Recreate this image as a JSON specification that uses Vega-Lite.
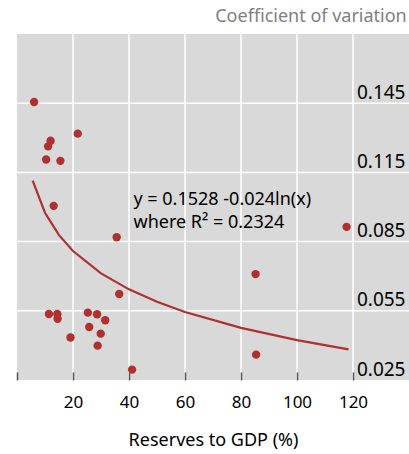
{
  "$schema": "https://vega.github.io/schema/vega-lite/v6.json",
  "width": 392,
  "height": 346,
  "autosize": "none",
  "padding": {"left": 17, "top": 34, "right": 0, "bottom": 74},
  "background": "white",
  "title": {
    "text": "Coefficient of variation",
    "anchor": "end",
    "orient": "top",
    "dx": -3,
    "offset": 7,
    "fontSize": 18,
    "fontWeight": "normal",
    "color": "#7f7f7f",
    "font": "Noto Sans"
  },
  "config": {
    "view": {"stroke": null},
    "font": "Noto Sans"
  },
  "datasets": {
    "points": [
      {"reserves": 6.1, "cv": 0.1455},
      {"reserves": 21.7, "cv": 0.1318},
      {"reserves": 12.0, "cv": 0.1287},
      {"reserves": 11.1, "cv": 0.1263},
      {"reserves": 10.4, "cv": 0.1206},
      {"reserves": 15.5, "cv": 0.1200},
      {"reserves": 13.1, "cv": 0.1005},
      {"reserves": 35.6, "cv": 0.0869},
      {"reserves": 117.7, "cv": 0.0914},
      {"reserves": 85.2, "cv": 0.0709},
      {"reserves": 36.5, "cv": 0.0623},
      {"reserves": 11.4, "cv": 0.0536},
      {"reserves": 14.4, "cv": 0.0536},
      {"reserves": 14.5, "cv": 0.0515},
      {"reserves": 25.3, "cv": 0.0542},
      {"reserves": 28.6, "cv": 0.0535},
      {"reserves": 31.5, "cv": 0.0509},
      {"reserves": 25.8, "cv": 0.0480},
      {"reserves": 29.9, "cv": 0.0451},
      {"reserves": 19.1, "cv": 0.0434},
      {"reserves": 28.8, "cv": 0.0399},
      {"reserves": 85.4, "cv": 0.0360},
      {"reserves": 41.1, "cv": 0.0295}
    ],
    "fit": [
      {"reserves": 5.6, "cv": 0.1114},
      {"reserves": 10, "cv": 0.0975},
      {"reserves": 15, "cv": 0.0878},
      {"reserves": 20, "cv": 0.0809},
      {"reserves": 30, "cv": 0.0712},
      {"reserves": 40, "cv": 0.0643},
      {"reserves": 50, "cv": 0.0589},
      {"reserves": 60, "cv": 0.0545},
      {"reserves": 80, "cv": 0.0476},
      {"reserves": 100, "cv": 0.0423},
      {"reserves": 118.4, "cv": 0.0383}
    ],
    "notes": [
      {"reserves": 41.6, "cv": 0.1031, "label": "y = 0.1528 -0.024ln(x)"},
      {"reserves": 41.6, "cv": 0.0931, "label": "where R² = 0.2324"}
    ],
    "panel": [{"x0": 0, "x1": 140, "y0": 0.025, "y1": 0.175}],
    "xgrid": [{"v": 20}, {"v": 40}, {"v": 60}, {"v": 80}, {"v": 100}, {"v": 120}],
    "ygrid": [{"v": 0.055}, {"v": 0.085}, {"v": 0.115}, {"v": 0.145}]
  },
  "layer": [
    {
      "data": {"name": "panel"},
      "mark": {"type": "rect", "color": "#d9d9d9", "opacity": 1},
      "encoding": {
        "x": {
          "field": "x0", "type": "quantitative",
          "scale": {"domain": [0, 140], "nice": false, "zero": false},
          "axis": {
            "title": "Reserves to GDP (%)",
            "titleFontSize": 18, "titleFontWeight": "normal", "titleColor": "black",
            "titlePadding": 21,
            "values": [0, 20, 40, 60, 80, 100, 120],
            "labelExpr": "datum.value == 0 ? '' : datum.label",
            "labelFontSize": 17, "labelColor": "black", "labelPadding": 22,
            "grid": false,
            "domain": false, "zindex": 1,
            "ticks": true, "tickSize": -8, "tickColor": "#555555", "tickWidth": 1.5
          }
        },
        "x2": {"field": "x1"},
        "y": {
          "field": "y0", "type": "quantitative",
          "scale": {"domain": [0.025, 0.175], "nice": false, "zero": false},
          "axis": {
            "orient": "right",
            "title": null,
            "values": [0.025, 0.055, 0.085, 0.115, 0.145, 0.175],
            "labelExpr": "datum.value > 0.16 ? '' : format(datum.value, '.3f')",
            "labelFontSize": 19, "labelColor": "black",
            "labelAlign": "right", "labelPadding": -4,
            "labelBaseline": "alphabetic", "labelOffset": -5,
            "grid": false, "domain": false, "ticks": false, "zindex": 1
          }
        },
        "y2": {"field": "y1"}
      }
    },
    {
      "data": {"name": "xgrid"},
      "mark": {"type": "rule", "color": "#ffffff", "strokeWidth": 1.5},
      "encoding": {
        "x": {"field": "v", "type": "quantitative"}
      }
    },
    {
      "data": {"name": "ygrid"},
      "mark": {"type": "rule", "color": "#ffffff", "strokeWidth": 1.5},
      "encoding": {
        "y": {"field": "v", "type": "quantitative"}
      }
    },
    {
      "data": {"name": "fit"},
      "mark": {"type": "line", "color": "#b03030", "strokeWidth": 2.2},
      "encoding": {
        "x": {"field": "reserves", "type": "quantitative"},
        "y": {"field": "cv", "type": "quantitative"}
      }
    },
    {
      "data": {"name": "points"},
      "mark": {"type": "circle", "color": "#b03030", "opacity": 1, "size": 70},
      "encoding": {
        "x": {"field": "reserves", "type": "quantitative"},
        "y": {"field": "cv", "type": "quantitative"}
      }
    },
    {
      "data": {"name": "notes"},
      "mark": {"type": "text", "align": "left", "baseline": "middle", "fontSize": 18, "color": "black"},
      "encoding": {
        "x": {"field": "reserves", "type": "quantitative"},
        "y": {"field": "cv", "type": "quantitative"},
        "text": {"field": "label"}
      }
    }
  ]
}
